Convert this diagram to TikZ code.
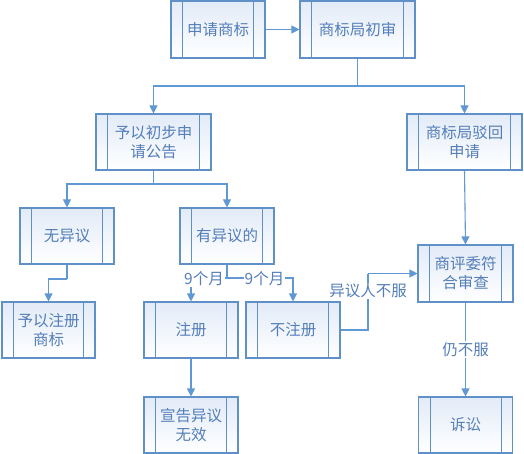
\documentclass[tikz,border=0pt]{standalone}
\usepackage{fontspec}
\newfontfamily\cjk{Noto Sans CJK SC}
\usetikzlibrary{arrows.meta,calc}
\definecolor{bordc}{RGB}{96,144,200}
\definecolor{linec}{RGB}{96,152,212}
\definecolor{textc}{RGB}{84,126,184}
\definecolor{shadec}{RGB}{226,235,248}
\tikzset{
  box/.style={draw=bordc, line width=1.1pt, top color=shadec, bottom color=white,
    minimum height=56pt, inner sep=0pt, align=center, text=textc,
    font=\cjk\fontsize{15.5}{19}\selectfont,
    path picture={
      \draw[bordc, line width=1pt] ([xshift=11.5pt]path picture bounding box.north west) -- ([xshift=11.5pt]path picture bounding box.south west);
      \draw[bordc, line width=1pt] ([xshift=-11.5pt]path picture bounding box.north east) -- ([xshift=-11.5pt]path picture bounding box.south east);
    }},
  conn/.style={draw=linec, line width=1.1pt, -{Triangle[length=8pt,width=8pt]}},
  plain/.style={draw=linec, line width=1.1pt},
  lbl/.style={fill=white, text=textc, font=\cjk\fontsize{15.5}{17}\selectfont, inner sep=1pt}
}
\begin{document}
\begin{tikzpicture}[x=1pt,y=-1pt]
\useasboundingbox (0,0) rectangle (524,454);
\node[box, minimum width=94pt, minimum height=57pt] (b1) at (218,29.5) {申请商标};
\node[box, minimum width=115pt, minimum height=57pt] (b2) at (357.5,29.5) {商标局初审};
\node[box, minimum width=115pt] (b3) at (153.5,142) {予以初步申\\请公告};
\node[box, minimum width=115pt] (b4) at (464.5,142) {商标局驳回\\申请};
\node[box, minimum width=94pt] (b5) at (67,236) {无异议};
\node[box, minimum width=94pt] (b6) at (227,236) {有异议的};
\node[box, minimum width=93pt] (b7) at (48.5,330) {予以注册\\商标};
\node[box, minimum width=94pt] (b8) at (191,330) {注册};
\node[box, minimum width=94pt] (b9) at (293,330) {不注册};
\node[box, minimum width=95pt, minimum height=57pt] (b10) at (465.5,273.5) {商评委符\\合审查};
\node[box, minimum width=94pt] (b11) at (191,425) {宣告异议\\无效};
\node[box, minimum width=94pt] (b12) at (465.5,425) {诉讼};

\coordinate (j1) at (357.5,86);
\coordinate (j2) at (153.5,184);
\coordinate (j3) at (67,279);
\coordinate (j4) at (227,278);
\coordinate (j5) at (368,330);
\coordinate (j6) at (368,273.5);

\draw[conn] (b1) -- (b2);
\draw[plain] (b2.south) -- (j1);
\draw[conn] (j1) -| (b3.north);
\draw[conn] (j1) -| (b4.north);
\draw[plain] (b3.south) -- (j2);
\draw[conn] (j2) -| (b5.north);
\draw[conn] (j2) -| (b6.north);
\draw[plain] (b5.south) -- (j3);
\draw[conn] (j3) -| (b7.north);
\draw[plain] (b6.south) -- (j4);
\draw[conn] (j4) -| (b8.north);
\draw[conn] (j4) -| (b9.north);
\node[lbl] (l1) at (204,278.5) {9个月};
\node[lbl] (l2) at (264.5,278.5) {9个月};
\draw[plain] (b9.east) -- (j5) -- (j6);
\draw[conn] (j6) -- (b10.west);
\node[lbl] (l3) at (368,291) {异议人不服};
\draw[conn] (b4.south) -- (b10.north);
\draw[conn] (b8.south) -- (b11.north);
\draw[conn] (b10.south) -- (b12.north) node[lbl, midway] (l4) {仍不服};
\end{tikzpicture}
\end{document}
